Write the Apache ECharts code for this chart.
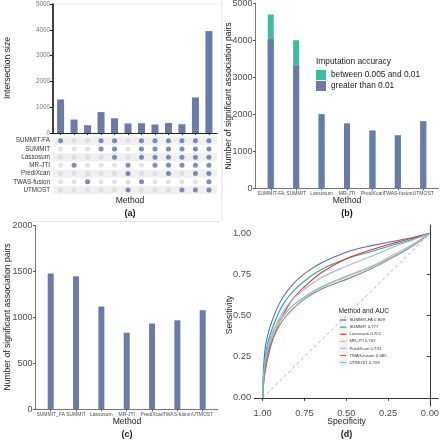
<!DOCTYPE html>
<html><head><meta charset="utf-8">
<script src="https://cdn.jsdelivr.net/npm/echarts@6/dist/echarts.min.js"></script>
<style>html,body{margin:0;padding:0;background:#fff}#c{width:440px;height:440px}</style>
</head><body><div id="c"></div>
<script>
const FONT = 'Liberation Sans, Arial, sans-serif';

// ---------- (a) UpSet ----------
const upsetSets = ['SUMMIT-FA','SUMMIT','Lassosum','MR-JTI','PrediXcan','TWAS-fusion','UTMOST'];
const upsetSizes = [1300, 520, 300, 810, 570, 370, 380, 330, 390, 340, 1380, 3950];
const upsetMembers = [
  ['SUMMIT-FA'],
  ['MR-JTI'],
  ['TWAS-fusion'],
  ['SUMMIT-FA','SUMMIT'],
  ['SUMMIT-FA','SUMMIT','Lassosum'],
  ['MR-JTI','PrediXcan','UTMOST'],
  ['SUMMIT-FA','SUMMIT','Lassosum','TWAS-fusion'],
  ['SUMMIT-FA','SUMMIT','Lassosum','MR-JTI'],
  ['SUMMIT-FA','SUMMIT','Lassosum','MR-JTI','PrediXcan'],
  ['SUMMIT-FA','SUMMIT','Lassosum','MR-JTI','UTMOST'],
  ['SUMMIT-FA','SUMMIT','Lassosum','MR-JTI','PrediXcan','UTMOST'],
  ['SUMMIT-FA','SUMMIT','Lassosum','MR-JTI','PrediXcan','TWAS-fusion','UTMOST']
];

// ---------- (b) ----------
const methodsB = ['SUMMIT-FA','SUMMIT','Lassosum','MR-JTI','PrediXcan','TWAS-fusion','UTMOST'];
const pairsGreater = [4030, 3310, 2000, 1750, 1560, 1430, 1810];
const pairsBetween = [670, 690, 0, 0, 0, 0, 0];
const legendB = ['between 0.005 and 0.01', 'greater than 0.01'];

// ---------- (c) ----------
const methodsC = ['SUMMIT_FA','SUMMIT','Lassosum','MR-JTI','PrediXcan','TWAS-fusion','UTMOST'];
const pairsC = [1480, 1450, 1120, 835, 935, 970, 1080];

// ---------- (d) ROC ----------
const rocMethods = ['SUMMIT-FA','SUMMIT','Lassosum','MR-JTI','PrediXcan','TWAS-fusion','UTMOST'];
const rocAUC = ['0.809','0.777','0.751','0.702','0.731','0.685','0.709'];
const rocSpec = [1, 0.995, 0.985, 0.97, 0.95, 0.92, 0.88, 0.82, 0.75, 0.65, 0.5, 0.35, 0.2, 0.1, 0];
const sensSummitFA  = [0, 0.17, 0.30, 0.38, 0.45, 0.53, 0.61, 0.69, 0.755, 0.82, 0.885, 0.925, 0.955, 0.975, 1];
const sensSummit    = [0, 0.14, 0.25, 0.33, 0.40, 0.48, 0.565, 0.645, 0.71, 0.78, 0.845, 0.89, 0.935, 0.965, 1];
const sensLassosum  = [0, 0.08, 0.16, 0.24, 0.32, 0.41, 0.50, 0.60, 0.675, 0.76, 0.845, 0.90, 0.945, 0.972, 1];
const sensMRJTI     = [0, 0.10, 0.19, 0.27, 0.35, 0.42, 0.49, 0.56, 0.615, 0.675, 0.74, 0.80, 0.88, 0.935, 1];
const sensPrediXcan = [0, 0.10, 0.20, 0.28, 0.36, 0.44, 0.52, 0.60, 0.66, 0.73, 0.80, 0.86, 0.925, 0.96, 1];
const sensTWAS      = [0, 0.09, 0.18, 0.26, 0.33, 0.40, 0.47, 0.54, 0.60, 0.66, 0.72, 0.785, 0.865, 0.925, 1];
const sensUTMOST    = [0, 0.13, 0.23, 0.31, 0.38, 0.44, 0.50, 0.56, 0.61, 0.67, 0.735, 0.795, 0.87, 0.93, 1];
const rocSens = [sensSummitFA, sensSummit, sensLassosum, sensMRJTI, sensPrediXcan, sensTWAS, sensUTMOST];
const rocTicks = [0, 0.25, 0.5, 0.75, 1];

// ---------- styles ----------
const BAR = '#6b7aa9';
const GREEN = '#3dbd9e';
const DOT = '#5f6fa8';
const EMPTY = '#dcdcdc';
const rocColors = ['#5b6aab','#1fac90','#e8333c','#f6a68f','#a9b3db','#a07a6c','#5ccfe5'];
const TXT = '#4d4d4d';

const chart = echarts.init(document.getElementById('c'), null, {renderer:'canvas'});

const series = [];
// (a) bars
series.push({type:'bar', xAxisIndex:0, yAxisIndex:0, barWidth:7,
  itemStyle:{color:BAR}, data: upsetSizes.map((v,i)=>[i+1, v]), silent:true});
// (a) row shading
series.push({type:'custom', xAxisIndex:1, yAxisIndex:1, silent:true, z:0,
  encode:{x:0, y:1},
  data: upsetSets.map((s,i)=>[1,i]).filter((d,i)=>i%2===0),
  renderItem(params, api){
    const p = api.coord([1, api.value(1)]);
    const h = api.size([0,1])[1];
    const cs = params.coordSys;
    return {type:'rect', shape:{x:cs.x, y:p[1]-h/2, width:cs.width, height:h}, style:{fill:'#f0f0f0'}};
  }});
const emptyPts = [], fullPts = [];
upsetMembers.forEach((m, j) => {
  upsetSets.forEach((s, i) => {
    (m.includes(s) ? fullPts : emptyPts).push([j+1, i]);
  });
});
series.push({type:'scatter', xAxisIndex:1, yAxisIndex:1, symbolSize:5, z:3, silent:true,
  itemStyle:{color:EMPTY}, data: emptyPts});
series.push({type:'scatter', xAxisIndex:1, yAxisIndex:1, symbolSize:5, z:4, silent:true,
  itemStyle:{color:DOT}, data: fullPts});
// (b) bars: total (green) underneath, "greater" (blue) overlaid from 0
series.push({type:'bar', xAxisIndex:2, yAxisIndex:2, barWidth:6, barGap:'-100%', silent:true, z:2,
  itemStyle:{color:GREEN}, data: pairsGreater.map((v,i)=>[i+1, v + pairsBetween[i]])});
series.push({type:'bar', xAxisIndex:2, yAxisIndex:2, barWidth:6, barGap:'-100%', silent:true, z:3,
  itemStyle:{color:BAR}, data: pairsGreater.map((v,i)=>[i+1, v])});
// (c) bars
series.push({type:'bar', xAxisIndex:3, yAxisIndex:3, barWidth:6, silent:true,
  itemStyle:{color:BAR}, data: pairsC.map((v,i)=>[i+1, v])});
// (d) diagonal
series.push({type:'line', xAxisIndex:4, yAxisIndex:4, symbol:'none', silent:true,
  lineStyle:{color:'#aaaaaa', width:0.9, type:[3,3]}, data:[[1,0],[0,1]]});
rocMethods.forEach((m, k) => {
  series.push({type:'line', name:m, xAxisIndex:4, yAxisIndex:4, symbol:'none', smooth:0.4, silent:true,
    lineStyle:{color:rocColors[k], width:1.1},
    data: rocSpec.map((s, i) => [s, rocSens[k][i]])});
});

const baseLabel = {fontFamily:FONT, color:TXT};
const plain = v => String(v);

const option = {
  animation:false,
  backgroundColor:'#fff',
  textStyle:{fontFamily:FONT},
  grid:[
    {left:52.5, top:4, width:164.5, height:129, containLabel:false, outerBoundsMode:'none'},
    {left:52.5, top:136.6, width:164.5, height:57.5, containLabel:false, outerBoundsMode:'none'},
    {left:255.5, top:3.3, width:183, height:185, containLabel:false, outerBoundsMode:'none'},
    {left:35.5, top:225.7, width:182.4, height:183.7, containLabel:false, outerBoundsMode:'none'},
    {left:254.3, top:225.1, width:184, height:180.9, containLabel:false, outerBoundsMode:'none'}
  ],
  xAxis:[
    {gridIndex:0, type:'value', min:0.4, max:12.6, splitLine:{show:false},
      axisLine:{show:true, lineStyle:{color:'#222', width:1}},
      axisTick:{show:true, length:2, customValues:upsetSizes.map((v,i)=>i+1), lineStyle:{color:'#222'}},
      axisLabel:{show:false}},
    {gridIndex:1, type:'value', min:0.4, max:12.6, show:false},
    {gridIndex:2, type:'value', min:0.4, max:7.6, splitLine:{show:false},
      axisLine:{show:true, lineStyle:{color:'#555', width:0.8}},
      axisTick:{show:true, length:2, customValues:methodsB.map((v,i)=>i+1), lineStyle:{color:'#555'}},
      axisLabel:Object.assign({fontSize:5, margin:2.5, customValues:methodsB.map((v,i)=>i+1),
        formatter:v=>methodsB[Math.round(v)-1]}, baseLabel)},
    {gridIndex:3, type:'value', min:0.4, max:7.6, splitLine:{show:false},
      axisLine:{show:true, lineStyle:{color:'#555', width:0.8}},
      axisTick:{show:true, length:2, customValues:methodsC.map((v,i)=>i+1), lineStyle:{color:'#555'}},
      axisLabel:Object.assign({fontSize:5, margin:2.5, customValues:methodsC.map((v,i)=>i+1),
        formatter:v=>methodsC[Math.round(v)-1]}, baseLabel)},
    {gridIndex:4, type:'value', min:-0.05, max:1.05, inverse:true, splitLine:{show:false},
      axisLine:{show:true, lineStyle:{color:'#333', width:1}},
      axisTick:{show:true, length:3, customValues:rocTicks, lineStyle:{color:'#333'}},
      axisLabel:Object.assign({fontSize:9.4, margin:3, customValues:rocTicks,
        formatter:v=>v.toFixed(2)}, baseLabel)}
  ],
  yAxis:[
    {gridIndex:0, type:'value', min:0, max:5000, interval:1000,
      splitLine:{show:false},
      axisLine:{show:true, lineStyle:{color:'#111', width:1.6}},
      axisTick:{show:true, length:2.5, lineStyle:{color:'#111'}},
      axisLabel:{fontSize:6.3, color:'#777', margin:2.5, fontFamily:FONT, formatter:plain}},
    {gridIndex:1, type:'category', data:upsetSets, inverse:true,
      axisLine:{show:false}, axisTick:{show:false},
      axisLabel:{fontSize:6.3, color:'#333', margin:2.5, fontFamily:FONT}},
    {gridIndex:2, type:'value', min:0, max:5000, interval:1000, splitLine:{show:false},
      axisLine:{show:true, lineStyle:{color:'#555', width:0.8}},
      axisTick:{show:true, length:2.5, lineStyle:{color:'#555'}},
      axisLabel:Object.assign({fontSize:9, margin:3, formatter:plain}, baseLabel)},
    {gridIndex:3, type:'value', min:0, max:2000, interval:500, splitLine:{show:false},
      axisLine:{show:true, lineStyle:{color:'#555', width:0.8}},
      axisTick:{show:true, length:2.5, lineStyle:{color:'#555'}},
      axisLabel:Object.assign({fontSize:9, margin:3, formatter:plain}, baseLabel)},
    {gridIndex:4, type:'value', min:-0.05, max:1.05, splitLine:{show:false},
      axisLine:{show:true, lineStyle:{color:'#333', width:1}},
      axisTick:{show:true, length:3, customValues:rocTicks, lineStyle:{color:'#333'}},
      axisLabel:Object.assign({fontSize:9.4, margin:3, customValues:rocTicks,
        formatter:v=>v.toFixed(2)}, baseLabel)}
  ],
  series,
  graphic: buildGraphic()
};

function txt(text, x, y, size, opts){
  return Object.assign({type:'text', x, y, silent:true, style:Object.assign({text, fill:'#1a1a1a',
    font:(opts && opts.bold ? 'bold ' : '') + size + 'px ' + FONT,
    textAlign:'center', textVerticalAlign:'middle'}, (opts && opts.style) || {})},
    opts && opts.rotation ? {rotation:opts.rotation} : {});
}

function buildGraphic(){
  const g = [];
  // separators
  g.push({type:'line', silent:true, shape:{x1:222, y1:0, x2:222, y2:220}, style:{stroke:'#e3e3e3', lineWidth:1}});
  g.push({type:'line', silent:true, shape:{x1:33, y1:221.5, x2:220, y2:221.5}, style:{stroke:'#e3e3e3', lineWidth:1}});
  g.push({type:'line', silent:true, shape:{x1:53, y1:4, x2:217, y2:4}, style:{stroke:'#dddddd', lineWidth:0.8}});
  // (a)
  g.push(txt('Intersection size', 8, 68, 8.6, {rotation:Math.PI/2}));
  g.push(txt('Method', 130, 201, 8.6));
  g.push(txt('(a)', 130, 214, 9, {bold:true}));
  // (b)
  g.push(txt('Number of significant association pairs', 229, 96, 8.6, {rotation:Math.PI/2}));
  g.push(txt('Method', 347, 201, 8.6));
  g.push(txt('(b)', 347, 214, 9, {bold:true}));
  g.push(txt('Imputation accuracy', 316, 62, 8.4, {style:{textAlign:'left'}}));
  g.push({type:'rect', silent:true, shape:{x:316, y:70, width:10, height:10}, style:{fill:GREEN}});
  g.push({type:'rect', silent:true, shape:{x:316, y:81, width:10, height:10}, style:{fill:BAR}});
  g.push(txt(legendB[0], 331, 75, 8.3, {style:{textAlign:'left'}}));
  g.push(txt(legendB[1], 331, 86, 8.3, {style:{textAlign:'left'}}));
  // (c)
  g.push(txt('Number of significant association pairs', 7.5, 317, 8.6, {rotation:Math.PI/2}));
  g.push(txt('Method', 127, 422, 8.6));
  g.push(txt('(c)', 127, 435, 9, {bold:true}));
  // (d)
  g.push(txt('Sensitivity', 230, 315, 8.6, {rotation:Math.PI/2}));
  g.push(txt('Specificity', 346.5, 421.5, 8.6));
  g.push(txt('(d)', 346.5, 435, 9, {bold:true}));
  g.push(txt('Method and AUC', 338.5, 311, 6.6, {style:{textAlign:'left'}}));
  rocMethods.forEach((m, k) => {
    const y = 320 + 7.1*k;
    g.push({type:'rect', silent:true, shape:{x:338.5, y:y-3.5, width:9.5, height:7}, style:{fill:'#f2f2f2'}});
    g.push({type:'line', silent:true, shape:{x1:340.2, y1:y, x2:346.3, y2:y}, style:{stroke:rocColors[k], lineWidth:1.2}});
    g.push(txt(m + ' ' + rocAUC[k], 349.5, y, 4.3, {style:{textAlign:'left', fill:'#333'}}));
  });
  return g;
}

chart.setOption(option);
</script>
</body></html>
